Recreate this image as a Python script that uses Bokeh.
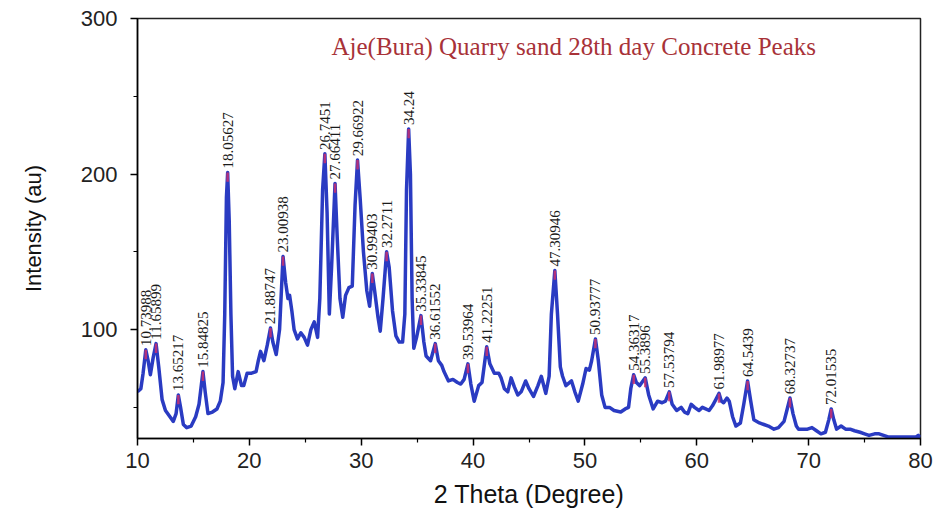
import math
from bokeh.plotting import figure
from bokeh.models import FixedTicker, Label, ColumnDataSource
from bokeh.core.properties import value
from bokeh.embed import file_html
from bokeh.resources import INLINE

# ---- data ----
two_theta = [
    10.0, 10.3, 10.5, 10.74, 10.95, 11.15, 11.4, 11.66, 11.9, 12.2, 12.5, 12.9, 13.2, 13.45, 13.65,
    13.85, 14.1, 14.4, 14.8, 15.2, 15.5, 15.85, 16.05, 16.3, 16.7, 17.1, 17.4, 17.65, 17.8, 17.95,
    18.06, 18.2, 18.35, 18.5, 18.7, 19.0, 19.3, 19.5, 19.8, 20.2, 20.6, 20.8, 21.0, 21.3, 21.6,
    21.89, 22.1, 22.4, 22.7, 23.01, 23.25, 23.45, 23.6, 23.8, 24.0, 24.3, 24.6, 24.9, 25.2, 25.5,
    25.8, 26.1, 26.3, 26.55, 26.75, 26.95, 27.15, 27.35, 27.66, 27.85, 28.1, 28.35, 28.6, 28.9, 29.2,
    29.45, 29.67, 29.9, 30.2, 30.5, 30.75, 30.99, 31.2, 31.5, 31.7, 31.95, 32.27, 32.5, 32.8, 33.1,
    33.4, 33.7, 33.9, 34.05, 34.24, 34.4, 34.55, 34.7, 34.95, 35.34, 35.6, 35.8, 36.2, 36.62, 36.9,
    37.2, 37.4, 37.8, 38.2, 38.6, 38.9, 39.2, 39.54, 39.8, 40.1, 40.5, 40.8, 41.22, 41.5, 41.9,
    42.3, 42.5, 42.8, 43.1, 43.4, 43.7, 44.0, 44.3, 44.7, 45.0, 45.4, 45.8, 46.1, 46.5, 46.8,
    47.0, 47.31, 47.55, 47.8, 48.0, 48.3, 48.8, 49.1, 49.4, 49.8, 50.1, 50.4, 50.6, 50.94, 51.2,
    51.5, 51.8, 52.2, 52.6, 53.2, 53.6, 53.9, 54.1, 54.36, 54.6, 54.9, 55.39, 55.7, 56.1, 56.5,
    56.9, 57.2, 57.54, 57.8, 58.2, 58.6, 58.9, 59.2, 59.5, 59.8, 60.2, 60.5, 60.8, 61.1, 61.4,
    61.7, 61.99, 62.2, 62.4, 62.7, 62.9, 63.2, 63.5, 63.9, 64.2, 64.54, 64.8, 65.1, 65.6, 66.0,
    66.4, 66.9, 67.3, 67.8, 68.05, 68.33, 68.6, 68.9, 69.1, 69.5, 69.9, 70.3, 70.7, 71.1, 71.5,
    71.8, 72.02, 72.25, 72.5, 72.9, 73.3, 73.7, 74.1, 74.6, 75.0, 75.4, 75.9, 76.3, 76.7, 77.1,
    77.6, 78.1, 78.6, 79.1, 79.6, 79.8, 80.0,
]
intensity = [
    60, 62, 72, 87, 80, 71, 82, 91, 76, 55, 48, 44, 41, 46, 58,
    50, 39, 37, 38, 44, 52, 73, 60, 46, 47, 49, 54, 66, 110, 185,
    201, 170, 110, 70, 62, 73, 64, 64, 72, 72, 73, 80, 86, 80, 90,
    101, 92, 84, 100, 147, 130, 120, 122, 112, 100, 94, 98, 95, 90, 100,
    105, 95, 120, 190, 213, 175, 110, 140, 194, 160, 120, 108, 122, 127, 128,
    180, 209, 185, 150, 125, 115, 136, 125, 108, 99, 120, 150, 140, 112, 96,
    92, 92, 110, 190, 229, 200, 120, 88, 95, 109, 92, 83, 80, 91, 80,
    77, 73, 67, 68, 66, 65, 68, 78, 65, 54, 64, 66, 89, 78, 72,
    72, 69, 62, 60, 69, 63, 58, 60, 67, 62, 57, 64, 70, 59, 70,
    110, 138, 110, 76, 70, 64, 67, 60, 54, 65, 75, 74, 80, 94, 80,
    58, 50, 50, 48, 47, 49, 50, 62, 71, 66, 64, 69, 58, 49, 54,
    53, 54, 60, 52, 48, 50, 47, 46, 52, 50, 48, 50, 49, 48, 51,
    55, 59, 54, 53, 56, 54, 44, 38, 40, 52, 67, 55, 42, 40, 39,
    38, 36, 37, 41, 48, 56, 46, 38, 36, 36, 36, 37, 35, 33, 34,
    42, 49, 42, 36, 38, 36, 36, 35, 34, 33, 32, 33, 33, 32, 31,
    31, 31, 31, 31, 31, 32, 31,
]

peak_pos = [10.73988, 11.65899, 13.65217, 15.84825, 18.05627, 21.88747, 23.00938, 26.7451,
            27.66411, 29.66922, 30.99403, 32.2711, 34.24, 35.33845, 36.61552, 39.53964,
            41.22251, 47.30946, 50.93777, 54.36317, 55.3896, 57.53794, 61.98977, 64.5439,
            68.32737, 72.01535]
peak_labels = ["10.73988", "11.65899", "13.65217", "15.84825", "18.05627", "21.88747", "23.00938",
               "26.7451", "27.66411", "29.66922", "30.99403", "32.2711", "34.24", "35.33845",
               "36.61552", "39.53964", "41.22251", "47.30946", "50.93777", "54.36317", "55.3896",
               "57.53794", "61.98977", "64.5439", "68.32737", "72.01535"]
peak_int = [87, 91, 58, 73, 201, 101, 147, 213, 194, 209, 136, 150, 229, 109, 91, 78, 89, 138,
            94, 71, 69, 60, 59, 67, 56, 49]

x_ticks = [10, 20, 30, 40, 50, 60, 70, 80]
x_minor = [15, 25, 35, 45, 55, 65, 75]
y_ticks = [100, 200, 300]
y_minor = [50, 150, 250]

title_text = "Aje(Bura) Quarry sand 28th day Concrete Peaks"

# ---- figure ----
p = figure(width=936, height=510, output_backend="svg", toolbar_location=None,
           x_range=(10, 80), y_range=(30, 300),
           min_border_left=137, min_border_right=16, min_border_top=18, min_border_bottom=69)
p.background_fill_color = "white"
p.border_fill_color = "white"
p.xgrid.visible = False
p.ygrid.visible = False
p.outline_line_color = "#222222"
p.outline_line_width = 1.5

for ax in (p.xaxis[0], p.yaxis[0]):
    ax.axis_line_color = "black"
    ax.axis_line_width = 1.5
    ax.major_tick_line_color = "black"
    ax.minor_tick_line_color = "black"
    ax.major_tick_line_width = 1.5
    ax.minor_tick_line_width = 1.2
    ax.major_tick_in = 0
    ax.major_tick_out = 7
    ax.minor_tick_in = 0
    ax.minor_tick_out = 4
    ax.major_label_text_font = "Liberation Sans"
    ax.major_label_text_font_size = "22px"
    ax.major_label_text_color = "#222222"
    ax.axis_label_text_font = "Liberation Sans"
    ax.axis_label_text_font_style = "normal"
    ax.axis_label_text_color = "#111111"

p.xaxis.ticker = FixedTicker(ticks=x_ticks, minor_ticks=x_minor)
p.yaxis.ticker = FixedTicker(ticks=y_ticks, minor_ticks=y_minor)
p.xaxis.axis_label = "2 Theta (Degree)"
p.yaxis.axis_label = "Intensity (au)"
p.xaxis.axis_label_text_font_size = "25px"
p.yaxis.axis_label_text_font_size = "22px"
p.xaxis.major_label_standoff = 7
p.yaxis.major_label_standoff = 13
p.xaxis.axis_label_standoff = 9
p.yaxis.axis_label_standoff = 32

# curve
p.line(two_theta, intensity, line_color="#2a3bc2", line_width=3.5, line_join="round")

# red peak caps
src = ColumnDataSource(dict(x=peak_pos, y=peak_int, lab=peak_labels,
                            y0=[v - 6 for v in peak_int],
                            ylab=[v + 2.5 for v in peak_int]))
p.segment(x0="x", y0="y0", x1="x", y1="y", source=src, line_color="#d3306a",
          line_width=2.5, line_alpha=0.8)

# peak labels (rotated)
p.text(x="x", y="ylab", text="lab", source=src, angle=math.pi / 2,
       text_align="left", text_baseline="middle",
       text_font=value("Liberation Serif"), text_font_size="15px", text_color="#1a1a1a")

# title inside the plot
p.add_layout(Label(x=49.0, y=282, text=title_text, text_align="center",
                   text_baseline="middle", text_font="Liberation Serif",
                   text_font_size="25px", text_color="#a83238"))

open("out.html", "w").write(file_html(p, INLINE))
